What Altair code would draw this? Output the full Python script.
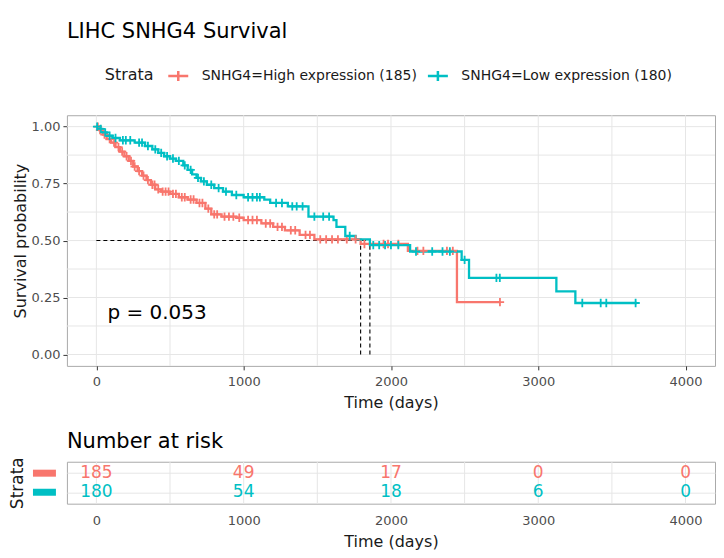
import altair as alt
import pandas as pd
import numpy as np

FONT = "DejaVu Sans"

strata = ["SNHG4=High expression (185)", "SNHG4=Low expression (180)"]
colors = ["#F8766D", "#00BFC4"]

# High expression: step times and survival after each step
high_t = [0, 20, 45, 70, 100, 130, 160, 190, 220, 250, 280, 310, 340, 370, 400, 440,
          500, 560, 620, 680, 740, 780, 850, 950, 1000, 1120, 1200, 1280, 1380, 1480,
          1794, 2115, 2448]
high_s = [1.0, 0.985, 0.965, 0.945, 0.93, 0.91, 0.89, 0.87, 0.85, 0.825, 0.805, 0.785,
          0.765, 0.745, 0.725, 0.715, 0.705, 0.69, 0.68, 0.665, 0.64, 0.615, 0.605, 0.6,
          0.59, 0.575, 0.56, 0.545, 0.525, 0.505, 0.485, 0.455, 0.23]
high_end = 2740
high_censor = [10, 25, 55, 90, 120, 150, 175, 205, 235, 260, 290, 320, 350, 380, 395,
               420, 450, 470, 490, 520, 540, 580, 600, 640, 660, 700, 720, 760, 800, 820,
               870, 900, 930, 970, 1030, 1060, 1090, 1150, 1180, 1230, 1260, 1320, 1350,
               1420, 1450, 1520, 1560, 1600, 1640, 1700, 1760, 1820, 1950, 1980, 2050,
               2180, 2220, 2380, 2420, 2740]

# Low expression
low_t = [0, 15, 40, 70, 110, 160, 260, 330, 380, 420, 460, 500, 540, 590, 620, 650, 680,
         710, 750, 800, 860, 920, 1000, 1140, 1180, 1300, 1440, 1610, 1630, 1690, 1760,
         1857, 2130, 2480, 2530, 3123, 3252]
low_s = [1.0, 0.99, 0.975, 0.96, 0.95, 0.94, 0.93, 0.915, 0.9, 0.885, 0.87, 0.86, 0.85,
         0.83, 0.81, 0.79, 0.775, 0.76, 0.745, 0.73, 0.715, 0.7, 0.69, 0.68, 0.665, 0.65,
         0.605, 0.59, 0.56, 0.52, 0.505, 0.48, 0.452, 0.415, 0.336, 0.277, 0.226]
low_end = 3670
low_censor = [5, 30, 60, 90, 130, 180, 200, 230, 290, 310, 350, 400, 440, 480, 520, 560,
              600, 640, 690, 730, 780, 830, 880, 950, 1030, 1060, 1090, 1110, 1220, 1260,
              1330, 1360, 1400, 1480, 1540, 1580, 1720, 1880, 1920, 1960, 2000, 2050, 2170,
              2280, 2350, 2400, 2500, 2716, 2739, 3299, 3424, 3462, 3661]

medians = [1794, 1857]
p_text = "p = 0.053"

risk_times = [0, 1000, 2000, 3000, 4000]
risk_high = [185, 49, 17, 0, 0]
risk_low = [180, 54, 18, 6, 0]

x_ticks = [0, 1000, 2000, 3000, 4000]
x_grid = [0, 500, 1000, 1500, 2000, 2500, 3000, 3500, 4000]
y_ticks = [0, 0.25, 0.5, 0.75, 1.0]
y_grid = [0, 0.125, 0.25, 0.375, 0.5, 0.625, 0.75, 0.875, 1.0]

# ---- tables ----
line_rows = []
cens_rows = []
for name, ts, ss, end, cens in [(strata[0], high_t, high_s, high_end, high_censor),
                                (strata[1], low_t, low_s, low_end, low_censor)]:
    for i, (t, s) in enumerate(zip(ts, ss)):
        line_rows.append({"strata": name, "t": t, "s": s, "i": i})
    line_rows.append({"strata": name, "t": end, "s": ss[-1], "i": len(ts)})
    ta = np.array(ts)
    for c in cens:
        idx = int(np.searchsorted(ta, c, side="right") - 1)
        cens_rows.append({"strata": name, "t": c, "s": ss[idx]})
line_df = pd.DataFrame(line_rows)
cens_df = pd.DataFrame(cens_rows)

med_h = pd.DataFrame({"t": [0], "t2": [max(medians)], "s": [0.5], "s2": [0.5]})
med_v = pd.DataFrame({"t": medians, "t2": medians, "s": [0, 0], "s2": [0.5, 0.5]})
gx = pd.DataFrame({"t": x_grid})
gy = pd.DataFrame({"s": y_grid})
p_df = pd.DataFrame({"t": [75], "s": [0.18], "label": [p_text]})

xscale = alt.Scale(domain=[-200, 4200], nice=False, zero=False)
yscale = alt.Scale(domain=[-0.05, 1.05], nice=False, zero=False)
xaxis = alt.Axis(title="Time (days)", values=x_ticks, format="d", grid=False,
                 labelPadding=6, titlePadding=6)
yaxis = alt.Axis(title="Survival probability", values=y_ticks, format=".2f", grid=False,
                 labelPadding=3, titlePadding=3)

def X(field="t"):
    return alt.X(f"{field}:Q", scale=xscale, axis=xaxis)

def Y(field="s"):
    return alt.Y(f"{field}:Q", scale=yscale, axis=yaxis)

plus_path = "M-1,0L1,0M0,-1L0,1"
legend = alt.Legend(orient="none", legendX=38, legendY=-51, direction="horizontal",
                    title="Strata", titleOrient="left", titleFontSize=16, titleFont=FONT,
                    titleFontWeight="normal", titleColor="#1A1A1A", titlePadding=13,
                    labelFontSize=14, labelFont=FONT, labelColor="#1A1A1A", labelLimit=0,
                    symbolType="M-1,0L1,0M0,-0.5L0,0.5", symbolSize=400,
                    symbolStrokeWidth=2.5, labelOffset=12, columnPadding=5)
color = alt.Color("strata:N", scale=alt.Scale(domain=strata, range=colors), legend=legend)

grid_x = alt.Chart(gx).mark_rule(color="#E6E6E6", strokeWidth=1).encode(x=X())
grid_y = alt.Chart(gy).mark_rule(color="#E6E6E6", strokeWidth=1).encode(y=Y())
lines = alt.Chart(line_df).mark_line(interpolate="step-after", strokeWidth=2.3).encode(
    x=X(), y=Y(), color=color, order="i:Q")
cens = alt.Chart(cens_df).mark_point(shape=plus_path, size=70, strokeWidth=1.8,
                                     filled=False, opacity=1).encode(
    x=X(), y=Y(), color=color)
mh = alt.Chart(med_h).mark_rule(color="black", strokeDash=[4, 3], strokeWidth=1.1).encode(
    x=X(), x2="t2:Q", y=Y(), y2="s2:Q")
mv = alt.Chart(med_v).mark_rule(color="black", strokeDash=[4, 3], strokeWidth=1.1).encode(
    x=X(), x2="t2:Q", y=Y(), y2="s2:Q")
ptxt = alt.Chart(p_df).mark_text(align="left", baseline="middle", fontSize=20, font=FONT,
                                 color="black").encode(x=X(), y=Y(), text="label:N")

main = alt.layer(grid_x, grid_y, mh, mv, lines, cens, ptxt).properties(
    width=649, height=251,
    title=alt.TitleParams("LIHC SNHG4 Survival", anchor="start", frame="group",
                          fontSize=21, font=FONT, fontWeight="normal", color="black",
                          offset=22))

# ---- risk table ----
short = ["High", "Low"]
risk_df = pd.DataFrame({
    "t": risk_times * 2,
    "row": [short[0]] * len(risk_times) + [short[1]] * len(risk_times),
    "n": risk_high + risk_low,
})
rx = alt.X("t:Q", scale=xscale, axis=alt.Axis(title="Time (days)", values=x_ticks,
                                                format="d", grid=False, ticks=False,
                                                labelPadding=11, titlePadding=6))
ry = alt.Y("row:N", scale=alt.Scale(type="point", domain=short, padding=0.6),
           axis=alt.Axis(title="Strata", grid=True, gridColor="#E6E6E6", ticks=False,
                         tickSize=0, labels=False, titlePadding=40, titleFontSize=17))
row_color = alt.Color("row:N", scale=alt.Scale(domain=short, range=colors), legend=None)
r_grid = alt.Chart(gx).mark_rule(color="#E6E6E6", strokeWidth=1).encode(x=rx)
r_key = alt.Chart(pd.DataFrame({"row": short})).mark_rule(strokeWidth=7).encode(
    x=alt.value(-34), x2=alt.value(-11), y=ry, color=row_color)
r_text = alt.Chart(risk_df).mark_text(fontSize=17, font=FONT).encode(
    x=rx, y=ry, text="n:Q", color=row_color)
risk = alt.layer(r_grid, r_key, r_text).properties(
    width=649, height=42,
    title=alt.TitleParams("Number at risk", anchor="start", frame="group", fontSize=21,
                          font=FONT, fontWeight="normal", color="black", offset=5))

chart = alt.vconcat(main, risk, spacing=18).resolve_scale(color="independent").properties(
    padding={"left": 0, "top": 12, "right": 0, "bottom": 0},
    background="white"
).configure_view(stroke="#AAAAAA", strokeWidth=1).configure_axis(
    labelFont=FONT, labelFontSize=13, labelColor="#4D4D4D",
    titleFont=FONT, titleFontSize=16, titleColor="#1A1A1A", titleFontWeight="normal",
    tickColor="#333333", tickSize=4, domain=False
)

chart.save("out.html", embed_options={"renderer": "svg", "actions": False})
